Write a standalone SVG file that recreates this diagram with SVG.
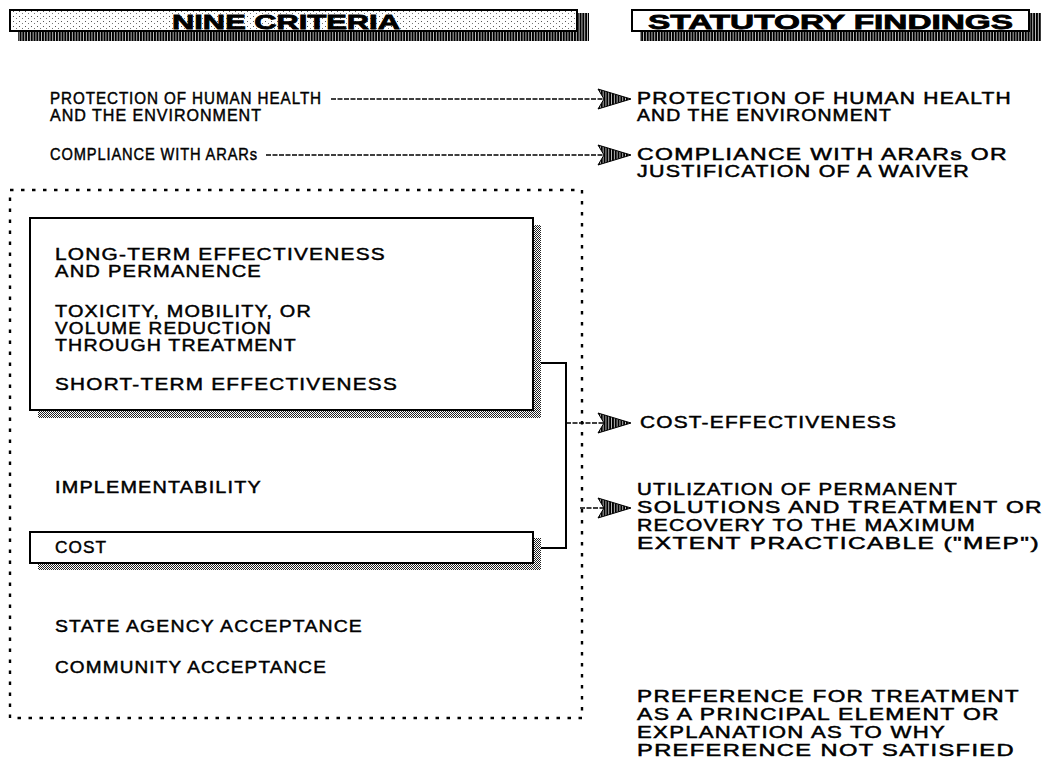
<svg xmlns="http://www.w3.org/2000/svg" width="1051" height="779" viewBox="0 0 1051 779">
<defs>
<pattern id="stip" width="6" height="5" patternUnits="userSpaceOnUse">
<rect width="6" height="5" fill="#fff"/>
<rect x="1" y="1" width="1" height="1" fill="#555"/>
<rect x="4" y="3" width="1" height="1" fill="#777"/>
</pattern>
<pattern id="vs" width="2.8" height="4" patternUnits="userSpaceOnUse">
<rect width="2.8" height="4" fill="#fff"/>
<rect width="2.1" height="4" fill="#000"/>
</pattern>
<pattern id="chk" width="2" height="2" patternUnits="userSpaceOnUse">
<rect width="2" height="2" fill="#fff"/>
<rect width="1" height="1" fill="#222"/>
<rect x="1" y="1" width="1" height="1" fill="#222"/>
</pattern>
<path id="ah" d="M0,-10 L33,0 L0,10 L6,0 Z" fill="url(#vs)" stroke="#000" stroke-width="1"/>
</defs>
<style>
.dl{stroke:#000;stroke-width:1.7;stroke-dasharray:5 1.5;fill:none}
.dot{stroke:#000;stroke-width:2.4;stroke-dasharray:3.5 7.5;fill:none}
.sl{stroke:#000;stroke-width:2;fill:none}
.bx{fill:#fff;stroke:#000;stroke-width:2}
.hd{font-family:"Liberation Sans",Arial,sans-serif;font-weight:bold;font-size:21px;fill:#000;stroke:#000;stroke-width:0.8}
.t1{font-family:"Liberation Sans",Arial,sans-serif;font-size:16.5px;letter-spacing:1px;fill:#000;stroke:#000;stroke-width:0.45}
.t2{font-family:"Liberation Sans",Arial,sans-serif;font-size:16.5px;letter-spacing:1px;fill:#000;stroke:#000;stroke-width:0.45}
.t3{font-family:"Liberation Sans",Arial,sans-serif;font-size:17px;letter-spacing:1px;fill:#000;stroke:#000;stroke-width:0.5}
</style>

<g id="hdr-nine">
<rect x="577" y="13" width="12" height="28" fill="url(#vs)"/>
<rect x="18" y="31" width="571" height="10" fill="url(#vs)"/>
<rect x="10" y="10" width="567" height="21" fill="url(#stip)" stroke="#000" stroke-width="2"/>
<text class="hd" x="172" y="28.5" textLength="228" lengthAdjust="spacingAndGlyphs">NINE CRITERIA</text>
</g>

<g id="hdr-stat">
<rect x="1029" y="13" width="12" height="28" fill="url(#vs)"/>
<rect x="640" y="31" width="401" height="10" fill="url(#vs)"/>
<rect x="632" y="10" width="397" height="21" class="bx"/>
<text class="hd" x="648" y="28.5" textLength="365" lengthAdjust="spacingAndGlyphs">STATUTORY FINDINGS</text>
</g>

<rect id="group-box" x="10" y="190" width="572" height="528" class="dot"/>

<g id="box-main">
<rect x="533" y="225" width="8" height="193" fill="url(#chk)"/>
<rect x="38" y="410" width="503" height="8" fill="url(#chk)"/>
<rect x="30" y="218" width="503" height="192" class="bx"/>
</g>
<g id="box-cost">
<rect x="533" y="538" width="8" height="32" fill="url(#chk)"/>
<rect x="38" y="563" width="503" height="7" fill="url(#chk)"/>
<rect x="30" y="532" width="503" height="31" class="bx"/>
</g>

<g id="connectors">
<line class="dl" x1="331" y1="99" x2="604" y2="99"/>
<use href="#ah" x="598" y="99"/>
<line class="dl" x1="266" y1="155" x2="604" y2="155"/>
<use href="#ah" x="598" y="155"/>
<path class="sl" d="M541,363 H566 V548 H541"/>
<line class="dl" x1="566" y1="423" x2="604" y2="423"/>
<use href="#ah" x="598" y="423"/>
<line class="dl" x1="580" y1="508" x2="604" y2="508"/>
<use href="#ah" x="598" y="508"/>
</g>

<g id="l-protection" class="t1">
<text x="50" y="104" textLength="272" lengthAdjust="spacingAndGlyphs">PROTECTION OF HUMAN HEALTH</text>
<text x="50" y="121" textLength="212" lengthAdjust="spacingAndGlyphs">AND THE ENVIRONMENT</text>
</g>
<g id="l-compliance" class="t1">
<text x="50" y="160" textLength="208" lengthAdjust="spacingAndGlyphs">COMPLIANCE WITH ARARs</text>
</g>

<g id="l-longterm" class="t2">
<text x="55" y="260" textLength="331" lengthAdjust="spacingAndGlyphs">LONG-TERM EFFECTIVENESS</text>
<text x="55" y="277" textLength="207" lengthAdjust="spacingAndGlyphs">AND PERMANENCE</text>
</g>
<g id="l-toxicity" class="t2">
<text x="55" y="317" textLength="257" lengthAdjust="spacingAndGlyphs">TOXICITY, MOBILITY, OR</text>
<text x="55" y="334" textLength="217" lengthAdjust="spacingAndGlyphs">VOLUME REDUCTION</text>
<text x="55" y="351" textLength="242" lengthAdjust="spacingAndGlyphs">THROUGH TREATMENT</text>
</g>
<g id="l-shortterm" class="t2">
<text x="55" y="390" textLength="343" lengthAdjust="spacingAndGlyphs">SHORT-TERM EFFECTIVENESS</text>
</g>
<g id="l-implement" class="t2">
<text x="55" y="493" textLength="207" lengthAdjust="spacingAndGlyphs">IMPLEMENTABILITY</text>
</g>
<g id="l-cost" class="t2">
<text x="55" y="553" textLength="52" lengthAdjust="spacingAndGlyphs">COST</text>
</g>
<g id="l-state" class="t2">
<text x="55" y="632" textLength="308" lengthAdjust="spacingAndGlyphs">STATE AGENCY ACCEPTANCE</text>
</g>
<g id="l-community" class="t2">
<text x="55" y="673" textLength="272" lengthAdjust="spacingAndGlyphs">COMMUNITY ACCEPTANCE</text>
</g>

<g id="r-protection" class="t3">
<text x="637" y="104" textLength="375" lengthAdjust="spacingAndGlyphs">PROTECTION OF HUMAN HEALTH</text>
<text x="637" y="121" textLength="255" lengthAdjust="spacingAndGlyphs">AND THE ENVIRONMENT</text>
</g>
<g id="r-compliance" class="t3">
<text x="637" y="160" textLength="371" lengthAdjust="spacingAndGlyphs">COMPLIANCE WITH ARARs OR</text>
<text x="637" y="177" textLength="333" lengthAdjust="spacingAndGlyphs">JUSTIFICATION OF A WAIVER</text>
</g>
<g id="r-costeff" class="t3">
<text x="640" y="428" textLength="257" lengthAdjust="spacingAndGlyphs">COST-EFFECTIVENESS</text>
</g>
<g id="r-mep" class="t3">
<text x="637" y="495" textLength="321" lengthAdjust="spacingAndGlyphs">UTILIZATION OF PERMANENT</text>
<text x="637" y="513" textLength="406" lengthAdjust="spacingAndGlyphs">SOLUTIONS AND TREATMENT OR</text>
<text x="637" y="531" textLength="339" lengthAdjust="spacingAndGlyphs">RECOVERY TO THE MAXIMUM</text>
<text x="637" y="549" textLength="403" lengthAdjust="spacingAndGlyphs">EXTENT PRACTICABLE ("MEP")</text>
</g>
<g id="r-preference" class="t3">
<text x="637" y="702" textLength="383" lengthAdjust="spacingAndGlyphs">PREFERENCE FOR TREATMENT</text>
<text x="637" y="720" textLength="363" lengthAdjust="spacingAndGlyphs">AS A PRINCIPAL ELEMENT OR</text>
<text x="637" y="738" textLength="309" lengthAdjust="spacingAndGlyphs">EXPLANATION AS TO WHY</text>
<text x="637" y="756" textLength="378" lengthAdjust="spacingAndGlyphs">PREFERENCE NOT SATISFIED</text>
</g>
</svg>
